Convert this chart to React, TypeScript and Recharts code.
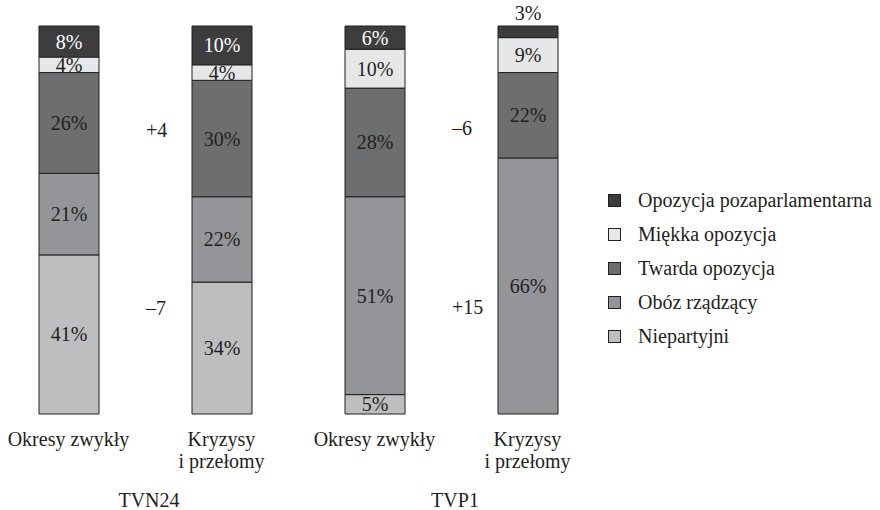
import React from 'react';
import { BarChart, Bar, XAxis, YAxis, Legend, LabelList } from 'recharts';

// categories (two per channel) and channel names
const categories = ['Okresy zwykły', 'Kryzysy\ni przełomy', 'Okresy zwykły', 'Kryzysy\ni przełomy'];
const channels = ['TVN24', 'TVP1'];

// shares in % (bottom of stack first)
const niepartyjni = [41, 34, 5, 0];
const obozRzadzacy = [21, 22, 51, 66];
const twardaOpozycja = [26, 30, 28, 22];
const miekkaOpozycja = [4, 4, 10, 9];
const opozycjaPozaparlamentarna = [8, 10, 6, 3];

// change between normal periods and crises
const deltaTexts = ['+4', '–7', '–6', '+15'];
const deltaChannel = [0, 0, 1, 1];

const SERIES = [
  { key: 'niep', name: 'Niepartyjni', values: niepartyjni },
  { key: 'oboz', name: 'Obóz rządzący', values: obozRzadzacy },
  { key: 'twarda', name: 'Twarda opozycja', values: twardaOpozycja },
  { key: 'miekka', name: 'Miękka opozycja', values: miekkaOpozycja },
  { key: 'poza', name: 'Opozycja pozaparlamentarna', values: opozycjaPozaparlamentarna },
];

const COLORS: Record<string, string> = {
  niep: '#bcbec0',
  oboz: '#939598',
  twarda: '#6d6e70',
  miekka: '#e6e7e8',
  poza: '#3d3d3e',
};
const LABEL_COLORS: Record<string, string> = {
  niep: '#231f20',
  oboz: '#231f20',
  twarda: '#231f20',
  miekka: '#231f20',
  poza: '#ffffff',
};

const data = categories.map((c, i) => {
  const row: any = { id: `c${i}` };
  SERIES.forEach((s) => (row[s.key] = s.values[i]));
  return row;
});

// layout
const W = 888;
const H = 510;
const TOP = 26;
const BOTTOM = 414;
const LEGEND_W = 276;
const BAND = (W - LEGEND_W) / 4;
const DELTA_BASELINE = [137, 315, 135, 314];
const FONT = 'Liberation Serif, serif';
const INK = '#231f20';

const CategoryTick = (props: any) => {
  const { x, payload } = props;
  const idx = data.findIndex((d) => d.id === payload.value);
  const lines = (categories[idx] || '').split('\n');
  return (
    <text x={x} y={BOTTOM + 32} textAnchor="middle" fontSize={20} fill={INK} style={{ fontFamily: FONT }}>
      {lines.map((l, k) => (
        <tspan key={k} x={x} dy={k === 0 ? 0 : 22}>
          {l}
        </tspan>
      ))}
    </text>
  );
};

const makeLabel = (key: string) => (props: any) => {
  const { x, y, width, height, value } = props;
  if (!value) return null;
  const small = value <= 3;
  const ty = small ? y - 6 : y + height / 2 + 7;
  return (
    <text
      x={x + width / 2}
      y={ty}
      textAnchor="middle"
      fontSize={20}
      style={{ fontFamily: FONT }}
      fill={small ? INK : LABEL_COLORS[key]}
    >
      {value}%
    </text>
  );
};

const LegendContent = () => (
  <div style={{ paddingLeft: 4, fontFamily: FONT, fontSize: 20, color: INK }}>
    {[...SERIES].reverse().map((s) => (
      <div key={s.key} style={{ display: 'flex', alignItems: 'center', height: 33.8 }}>
        <span
          style={{
            display: 'inline-block',
            width: 11,
            height: 11,
            background: COLORS[s.key],
            border: `1px solid ${INK}`,
            marginRight: 17,
          }}
        />
        <span>{s.name}</span>
      </div>
    ))}
  </div>
);

export default function App() {
  return (
    <div style={{ position: 'absolute', left: -8, top: 0, width: W, height: H, fontFamily: FONT }}>
      <BarChart width={W} height={H} data={data} margin={{ top: TOP, right: 0, left: 0, bottom: 0 }}>
        <XAxis
          dataKey="id"
          height={H - BOTTOM}
          axisLine={false}
          tickLine={false}
          interval={0}
          tick={<CategoryTick />}
        />
        <YAxis hide domain={[0, 100]} />
        <Legend
          layout="vertical"
          align="right"
          verticalAlign="top"
          width={LEGEND_W}
          wrapperStyle={{ left: W - LEGEND_W, top: 184, right: undefined }}
          content={<LegendContent />}
        />
        {SERIES.map((s) => (
          <Bar
            key={s.key}
            dataKey={s.key}
            name={s.name}
            stackId="a"
            barSize={60}
            fill={COLORS[s.key]}
            stroke={INK}
            strokeWidth={1}
            isAnimationActive={false}
          >
            <LabelList dataKey={s.key} content={makeLabel(s.key)} />
          </Bar>
        ))}
      </BarChart>
      <svg
        width={W}
        height={H}
        style={{ position: 'absolute', left: 0, top: 0, pointerEvents: 'none' }}
      >
        {deltaTexts.map((t, i) => (
          <text
            key={i}
            x={(2 * deltaChannel[i] + 1) * BAND + 1}
            y={DELTA_BASELINE[i]}
            fontSize={20}
            style={{ fontFamily: FONT }}
            fill={INK}
          >
            {t}
          </text>
        ))}
        {channels.map((c, g) => (
          <text
            key={c}
            x={(2 * g + 1) * BAND + 4}
            y={507}
            textAnchor="middle"
            fontSize={20}
            style={{ fontFamily: FONT }}
            fill={INK}
          >
            {c}
          </text>
        ))}
      </svg>
    </div>
  );
}
